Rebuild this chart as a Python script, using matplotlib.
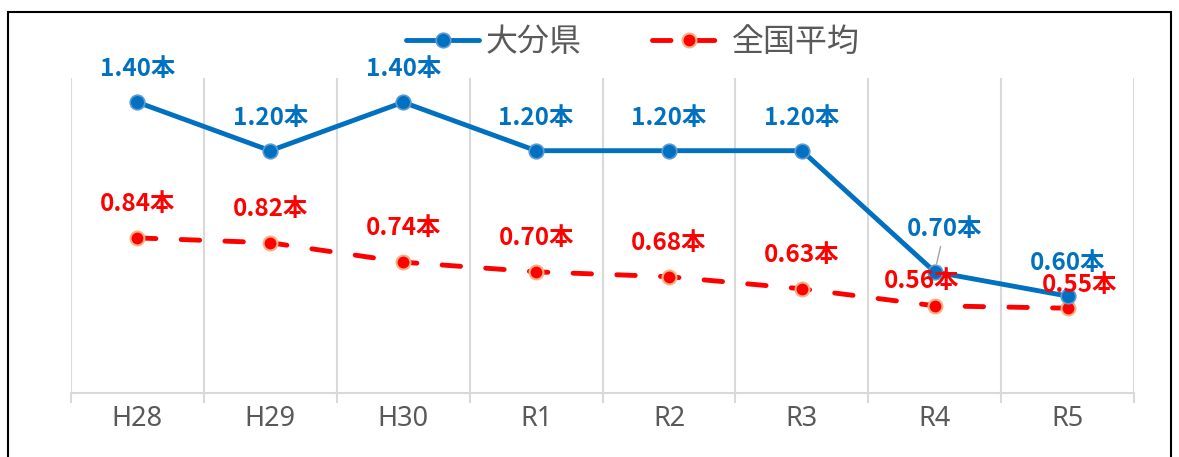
import numpy as np
import matplotlib.pyplot as plt
from matplotlib.patches import Rectangle

plt.rcParams['font.family'] = ['Noto Sans CJK JP', 'DejaVu Sans']

# データ
years = ["H28", "H29", "H30", "R1", "R2", "R3", "R4", "R5"]
oita = [1.40, 1.20, 1.40, 1.20, 1.20, 1.20, 0.70, 0.60]
national = [0.84, 0.82, 0.74, 0.70, 0.68, 0.63, 0.56, 0.55]

blue = "#0070C0"
red = "#FF0000"
grey = "#595959"

fig = plt.figure(figsize=(11.79, 4.57), dpi=100)
ax = fig.add_axes([71 / 1179, 1 - 393 / 457, (1134 - 71) / 1179, (393 - 78) / 457])

x = np.arange(len(years))
ax.plot(x, oita, color=blue, lw=3.5, marker="o", ms=10.5,
        mfc=blue, mec="#5B9BD5", mew=1.2, solid_capstyle="round",
        label="大分県", zorder=4)
ax.plot(x, national, color=red, lw=3.5, marker="o", ms=10,
        mfc=red, mec="#F4B183", mew=1.5, dashes=(3.8, 5.2),
        dash_capstyle="round", label="全国平均", zorder=3)

ax.set_xlim(-0.5, len(years) - 0.5)
ax.set_ylim(0.2, 1.5)
ax.set_yticks([])
for s in ["top", "left", "right"]:
    ax.spines[s].set_visible(False)
ax.spines["bottom"].set_color("#D9D9D9")
ax.spines["bottom"].set_linewidth(1.5)

ax.set_xticks(x)
ax.set_xticklabels(years, fontsize=19.5, color=grey, fontfamily=["Noto Sans", "DejaVu Sans"])
ax.tick_params(axis="x", which="major", length=0, pad=9)
ax.set_xticks(np.arange(-0.5, len(years)), minor=True)
ax.tick_params(axis="x", which="minor", length=7, width=1.5, color="#D9D9D9")
ax.grid(axis="x", which="minor", color="#D9D9D9", lw=1.5)
ax.set_axisbelow(True)

# ラベル位置（ピクセル）
px = 0.72
blue_off = [(0, 33)] * 6 + [(10, 43), (0, 33)]
red_off = [(0, 34)] * 6 + [(-13, 25), (12, 23)]

for i, v in enumerate(oita):
    dx, dy = blue_off[i]
    kw = {}
    if i == 6:
        kw = dict(arrowprops=dict(arrowstyle="-", color="#A6A6A6", lw=1,
                                  shrinkA=2, shrinkB=6))
    ax.annotate(f"{v:.2f}本", (i, v), xytext=(dx * px, dy * px),
                textcoords="offset points", ha="center", va="center",
                fontsize=17.5, fontweight="bold", color=blue, zorder=6, **kw)

for i, v in enumerate(national):
    dx, dy = red_off[i]
    ax.annotate(f"{v:.2f}本", (i, v), xytext=(dx * px, dy * px),
                textcoords="offset points", ha="center", va="center",
                fontsize=17.5, fontweight="bold", color=red, zorder=6)

leg = fig.legend(loc="center", bbox_to_anchor=(633 / 1179, 1 - 42 / 457),
                 ncol=2, frameon=False, fontsize=23, handlelength=2.3,
                 columnspacing=2.2, handletextpad=0.2)
for t in leg.get_texts():
    t.set_color(grey)

fig.patches.append(Rectangle((8 / 1179, -0.05), (1171 - 8) / 1179, 1.05 - 12 / 457,
                             transform=fig.transFigure, fill=False,
                             edgecolor="black", lw=1.5))

fig.savefig("out.png", dpi=100)
